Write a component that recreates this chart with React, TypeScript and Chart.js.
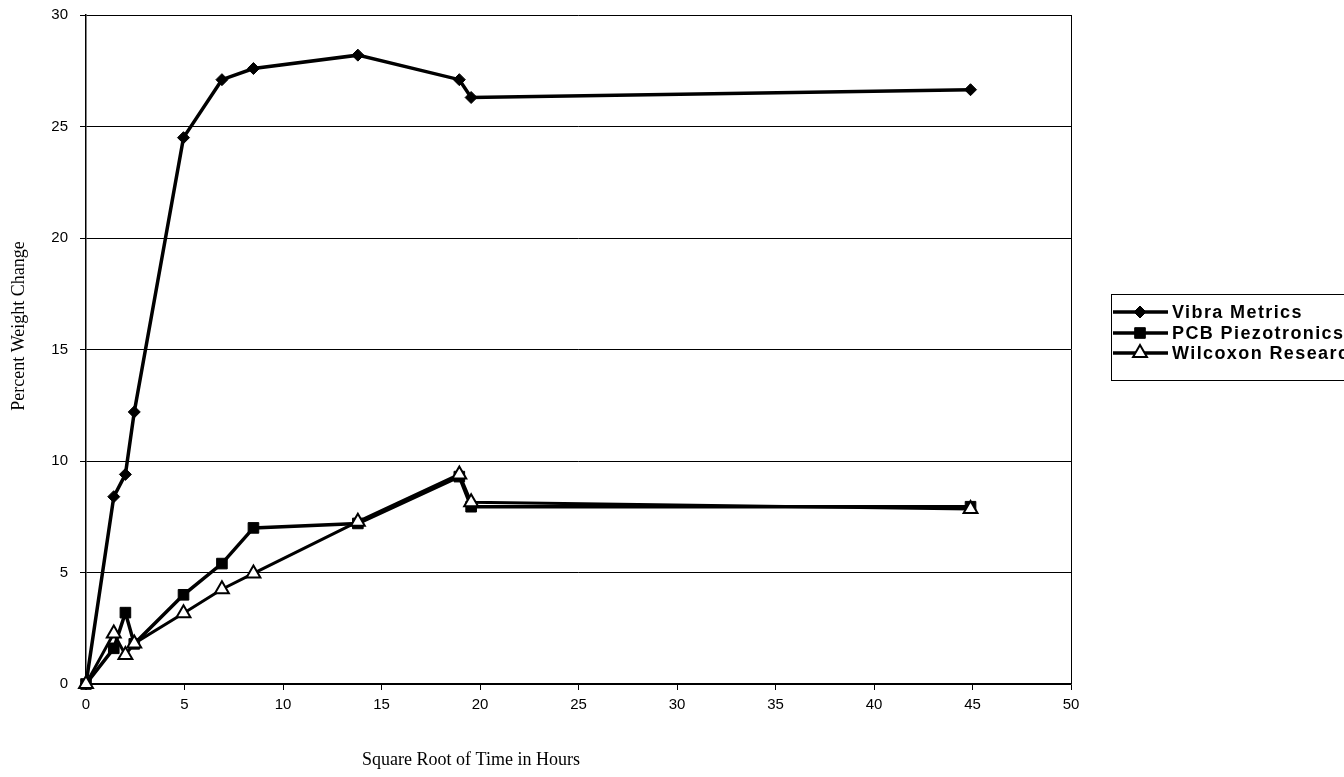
import React, { useEffect, useRef } from "react";
import { Chart, registerables } from "chart.js";
import { drawPoint } from "chart.js/helpers";

Chart.register(...registerables);

// Square root of time in hours (x values)
const sqrtHours = [0, 1.41, 2.0, 2.45, 4.95, 6.9, 8.5, 13.8, 18.95, 19.55, 44.9];
// Percent weight change per series
const vibraMetrics = [0, 8.4, 9.4, 12.2, 24.5, 27.1, 27.6, 28.2, 27.1, 26.3, 26.65];
const pcbPiezotronics = [0, 1.6, 3.2, 1.8, 4.0, 5.4, 7.0, 7.2, 9.3, 7.95, 7.95];
const wilcoxonResearch = [0, 2.27, 1.3, 1.82, 3.17, 4.25, 4.96, 7.28, 9.4, 8.15, 7.85];

const seriesNames = ["Vibra Metrics", "PCB Piezotronics", "Wilcoxon Research"];
const xTicks = [0, 5, 10, 15, 20, 25, 30, 35, 40, 45, 50];
const yTicks = [0, 5, 10, 15, 20, 25, 30];
const xTitle = "Square Root of Time in Hours";
const yTitle = "Percent Weight Change";

const SANS = '"Liberation Sans", Arial, Helvetica, sans-serif';
const SERIF = '"Liberation Serif", "Times New Roman", Times, serif';

const toPoints = (ys: number[]) => sqrtHours.map((x, i) => ({ x, y: ys[i] }));

export default function App() {
  const canvasRef = useRef<HTMLCanvasElement | null>(null);

  useEffect(() => {
    if (!canvasRef.current) return;

    const styles = [
      { pointStyle: "rectRot", radius: 6, bg: "#000", bw: 1 },
      { pointStyle: "rect", radius: 7.5, bg: "#000", bw: 1 },
      { pointStyle: "triangle", radius: 8, bg: "#fff", bw: 2 },
    ];

    const decor = {
      id: "decor",
      afterDraw(chart: any) {
        const ctx = chart.ctx as CanvasRenderingContext2D;
        const { left, right, top, bottom } = chart.chartArea;
        ctx.save();
        // right border of the plot area
        ctx.strokeStyle = "#000";
        ctx.lineWidth = 1;
        ctx.beginPath();
        ctx.moveTo(right + 0.5, top);
        ctx.lineTo(right + 0.5, bottom);
        ctx.stroke();

        // axis titles
        ctx.fillStyle = "#000";
        ctx.font = `18px ${SERIF}`;
        ctx.textAlign = "center";
        ctx.textBaseline = "middle";
        ctx.fillText(xTitle, left + 385, 760);
        ctx.save();
        ctx.translate(19, 326);
        ctx.rotate(-Math.PI / 2);
        ctx.fillText(yTitle, 0, 0);
        ctx.restore();

        // legend
        const bx = 1111.5;
        const by = 294.5;
        ctx.strokeStyle = "#000";
        ctx.lineWidth = 1;
        ctx.strokeRect(bx, by, 300, 86);
        const rows = [312, 333, 353];
        ctx.font = `bold 18px ${SANS}`;
        (ctx as any).letterSpacing = "1.4px";
        ctx.textAlign = "left";
        seriesNames.forEach((name, i) => {
          const y = rows[i];
          ctx.strokeStyle = "#000";
          ctx.lineWidth = 3.5;
          ctx.beginPath();
          ctx.moveTo(1113, y);
          ctx.lineTo(1168, y);
          ctx.stroke();
          const s = styles[i];
          ctx.fillStyle = s.bg;
          ctx.strokeStyle = "#000";
          ctx.lineWidth = s.bw;
          drawPoint(ctx, { pointStyle: s.pointStyle as any, radius: s.radius, rotation: 0, borderWidth: s.bw }, 1140, y);
          ctx.fillStyle = "#000";
          ctx.fillText(name, 1172, y + 1);
        });
        ctx.restore();
      },
    };

    const chart = new Chart(canvasRef.current, {
      type: "line",
      data: {
        datasets: [
          {
            label: seriesNames[0],
            data: toPoints(vibraMetrics),
            borderColor: "#000",
            backgroundColor: "#000",
            borderWidth: 3.5,
            pointStyle: "rectRot",
            pointRadius: 6,
            pointBackgroundColor: "#000",
            pointBorderColor: "#000",
            pointBorderWidth: 1,
            order: 2,
            clip: false as any,
          },
          {
            label: seriesNames[1],
            data: toPoints(pcbPiezotronics),
            borderColor: "#000",
            backgroundColor: "#000",
            borderWidth: 3.5,
            pointStyle: "rect",
            pointRadius: 7.5,
            pointBackgroundColor: "#000",
            pointBorderColor: "#000",
            pointBorderWidth: 1,
            order: 1,
            clip: false as any,
          },
          {
            label: seriesNames[2],
            data: toPoints(wilcoxonResearch),
            borderColor: "#000",
            backgroundColor: "#fff",
            borderWidth: 3,
            pointStyle: "triangle",
            pointRadius: 8,
            pointBackgroundColor: "#fff",
            pointBorderColor: "#000",
            pointBorderWidth: 2,
            order: 0,
            clip: false as any,
          },
        ],
      },
      options: {
        animation: false,
        responsive: true,
        maintainAspectRatio: false,
        layout: { padding: { left: 0, right: 273, top: 15, bottom: 0 } },
        plugins: {
          legend: { display: false },
          tooltip: { enabled: false },
        },
        elements: { line: { tension: 0 } },
        scales: {
          x: {
            type: "linear",
            min: 0,
            max: 50,
            afterFit: (s: any) => {
              s.height = 93;
              s.paddingLeft = 0;
              s.paddingRight = 0;
            },
            afterBuildTicks: (s: any) => {
              s.ticks = xTicks.map((v) => ({ value: v }));
            },
            ticks: {
              color: "#000",
              font: { family: SANS, size: 15 },
              padding: 6,
              maxRotation: 0,
              autoSkip: false,
            },
            grid: {
              drawOnChartArea: false,
              drawTicks: true,
              tickLength: 6,
              color: "#000",
            },
            border: { color: "#000", width: 1.5 },
          },
          y: {
            type: "linear",
            min: 0,
            max: 30,
            afterFit: (s: any) => {
              s.width = 86;
              s.paddingTop = 0;
              s.paddingBottom = 0;
            },
            afterBuildTicks: (s: any) => {
              s.ticks = yTicks.map((v) => ({ value: v }));
            },
            ticks: {
              color: "#000",
              font: { family: SANS, size: 15 },
              padding: 12,
              autoSkip: false,
            },
            grid: {
              color: "#000",
              lineWidth: 1,
              drawTicks: true,
              tickLength: 6,
            },
            border: { color: "#000", width: 1.5 },
          },
        },
      },
      plugins: [decor],
    });

    return () => chart.destroy();
  }, []);

  return (
    <div
      style={{
        position: "fixed",
        left: 0,
        top: 0,
        width: 1344,
        height: 777,
        background: "#fff",
        overflow: "hidden",
      }}
    >
      <canvas ref={canvasRef} />
    </div>
  );
}
